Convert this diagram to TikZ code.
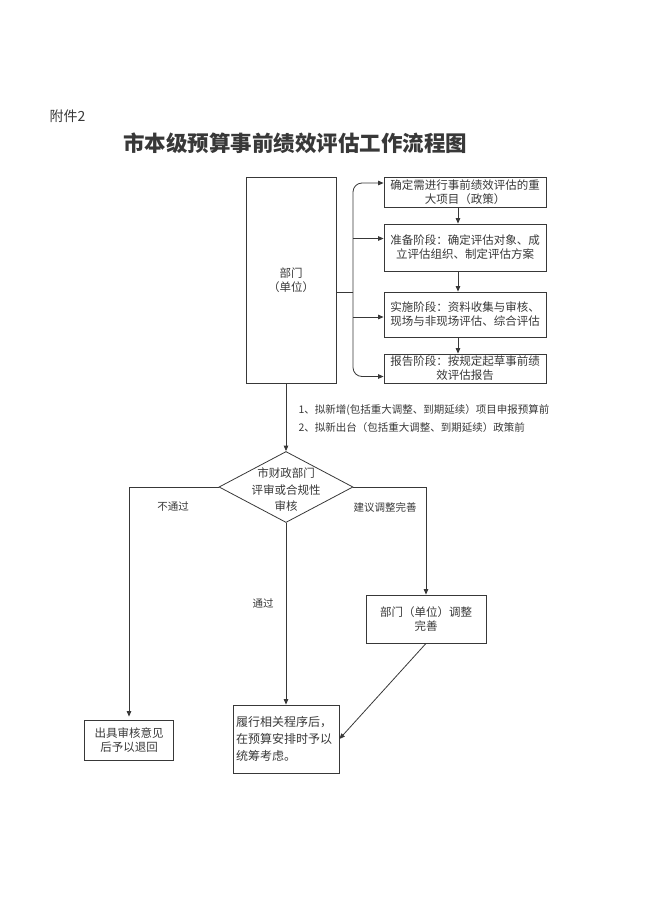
\documentclass[tikz,border=0pt]{standalone}
\usepackage{fontspec}
\setmainfont{Noto Sans CJK SC}
\usepackage{tikz}
\usetikzlibrary{arrows.meta}
\usetikzlibrary{shapes.geometric}

\definecolor{ink}{gray}{0.22}
\tikzset{
  box/.style={draw=ink, line width=0.8pt, inner sep=1pt, align=center, text=ink, font=\fontsize{11.5}{14}\selectfont},
  line/.style={draw=ink, line width=0.8pt},
  arr/.style={line, -{Triangle[length=5.5pt,width=4.5pt]}},
  lbl/.style={text=ink, font=\fontsize{10.5}{13}\selectfont},
}

\begin{document}
\begin{tikzpicture}[x=1pt,y=-1pt]
    \useasboundingbox (0,0) rectangle (649,918);
    \node[anchor=west, text=ink, font=\fontsize{14}{16}\selectfont] (annex) at (46,116) {附件2};
    \node[text=ink, font=\bfseries\fontsize{21.5}{24}\selectfont] (title) at (295,143) {市本级预算事前绩效评估工作流程图};

    \node[box, minimum width=90pt, minimum height=206pt] (dept) at (291,280) {部门\\（单位）};
    \node[box, minimum width=162pt, minimum height=30pt] (ident) at (465,192) {确定需进行事前绩效评估的重\\大项目（政策）};
    \node[box, minimum width=162pt, minimum height=47pt] (prep) at (465,247.5) {准备阶段：确定评估对象、成\\立评估组织、制定评估方案};
    \node[box, minimum width=162pt, minimum height=45pt] (impl) at (465,314.5) {实施阶段：资料收集与审核、\\现场与非现场评估、综合评估};
    \node[box, minimum width=162pt, minimum height=29pt] (report) at (465,368.5) {报告阶段：按规定起草事前绩\\效评估报告};

    \coordinate (brk) at (353,292);
    \draw[line] (dept.east |- brk) -- (brk);
    \draw[arr, rounded corners=9pt] (brk) |- ([yshift=9pt]ident.west);
    \draw[arr, rounded corners=9pt] (brk) |- ([yshift=-8pt]report.west);
    \draw[arr] ([yshift=9pt]prep.west -| brk) -- ([yshift=9pt]prep.west);
    \draw[arr] ([yshift=-2.5pt]impl.west -| brk) -- ([yshift=-2.5pt]impl.west);
    \draw[arr] ([xshift=-7pt]ident.south) -- ([xshift=-7pt]prep.north);
    \draw[arr] ([xshift=-7pt]prep.south) -- ([xshift=-7pt]impl.north);
    \draw[arr] ([xshift=-7pt]impl.south) -- ([xshift=-7pt]report.north);

    \node[lbl, anchor=west] (note1) at (295,410) {1、拟新增(包括重大调整、到期延续）项目申报预算前};
    \node[lbl, anchor=west] (note2) at (295,428) {2、拟新出台（包括重大调整、到期延续）政策前};

    \node[line, diamond, minimum width=134pt, minimum height=71pt, inner sep=0pt] (check) at (286,487) {};
    \node[align=center, text=ink, font=\fontsize{11.5}{16.5}\selectfont] (checktxt) at (286,490) {市财政部门\\评审或合规性\\审核};

    \node[box, minimum width=89pt, minimum height=40pt] (ret) at (129,740) {出具审核意见\\后予以退回};
    \node[box, minimum height=68pt, text width=100pt, inner sep=3pt, align=left, font=\fontsize{12}{17}\selectfont] (exec) at (286,739) {履行相关程序后，\\在预算安排时予以\\统筹考虑。};
    \node[box, minimum width=120pt, minimum height=48pt] (adj) at (426,619) {部门（单位）调整\\完善};

    \draw[arr] (check.north |- dept.south) -- (check.north);
    \draw[arr, shorten >=3pt] (check.west) -| (ret.north);
    \draw[arr] (check.south) -- (exec.north);
    \draw[arr] (check.east) -| (adj.north);
    \draw[arr] (adj.south) -- (exec.east);

    \node[lbl] (fail) at (173,507) {不通过};
    \node[lbl] (revise) at (385,507) {建议调整完善};
    \node[lbl] (pass) at (263,603) {通过};
\end{tikzpicture}
\end{document}
